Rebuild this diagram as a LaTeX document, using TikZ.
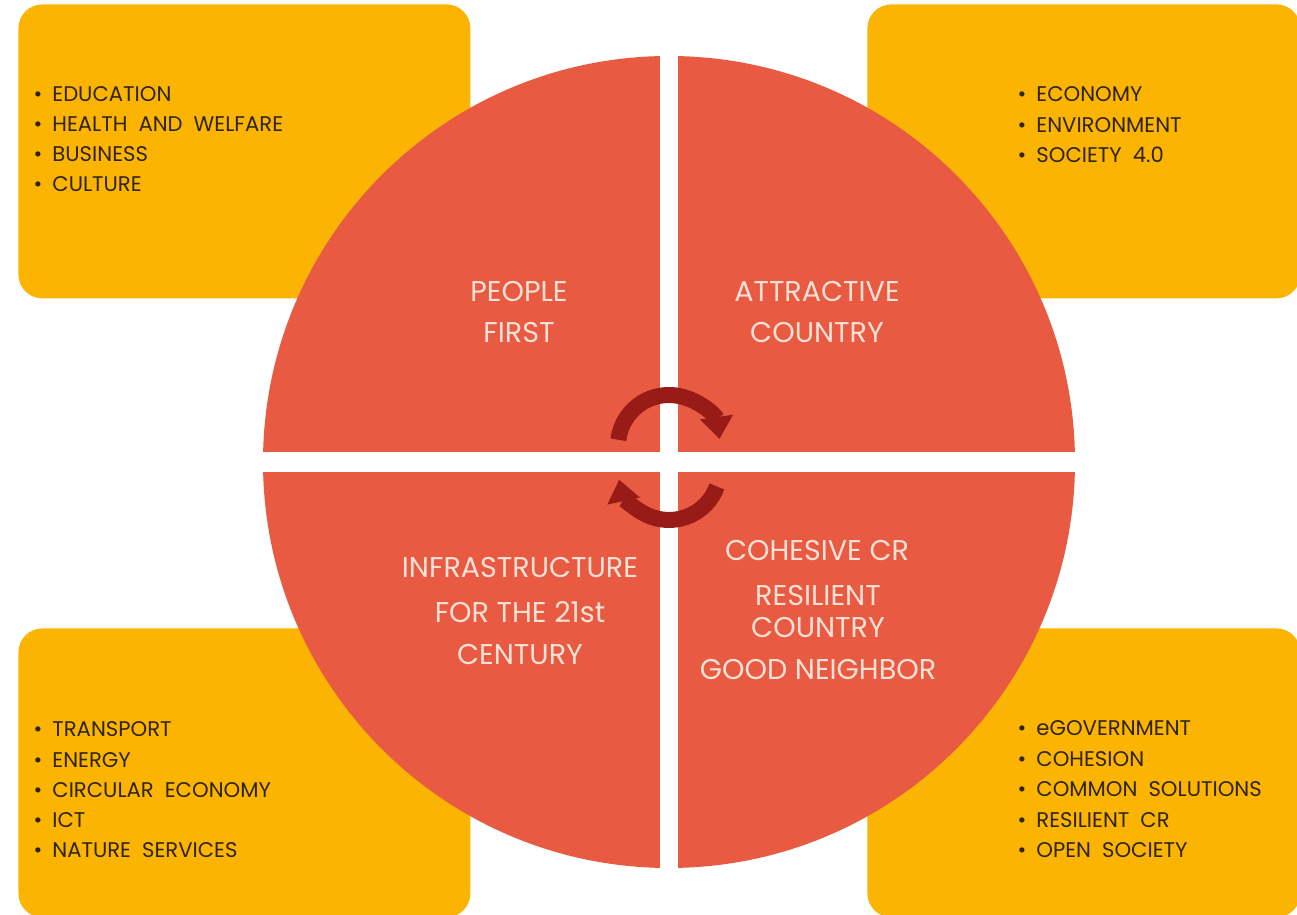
\documentclass[tikz,border=0pt]{standalone}
\usepackage{fontspec}
\setmainfont{Poppins}
\usetikzlibrary{arrows.meta}
\definecolor{amber}{HTML}{FBB401}
\definecolor{tomato}{HTML}{E85A41}
\definecolor{darkred}{HTML}{981B17}
\definecolor{pale}{HTML}{FCE2D6}
\definecolor{ink}{HTML}{2F2405}
\newcommand{\myitem}[1]{\spaceskip=5.5pt plus 1pt\relax\llap{\textbullet\hspace{5pt}}#1}
\begin{document}
\begin{tikzpicture}[x=0.5pt,y=0.5pt,
  box/.style={fill=amber, rounded corners=12pt, inner sep=0pt, draw=none, anchor=north west},
  item/.style={font=\fontsize{10.6}{12}\selectfont, text=ink, inner sep=0pt, anchor=base west},
  quad/.style={font=\fontsize{14.3}{16}\selectfont, text=pale, inner sep=0pt},
  cyc/.style={draw=darkred, line width=8pt, -{Triangle[width=16pt,length=11pt]}}]
\useasboundingbox (0,0) rectangle (1297,915);
\fill[white] (0,0) rectangle (1297,915);
% boxes
\node[box, minimum width=226pt, minimum height=147pt] (tl) at (18,911) {};
\node[box, minimum width=216.5pt, minimum height=147pt] (tr) at (867,911) {};
\node[box, minimum width=226pt, minimum height=144.5pt] (bl) at (18,287) {};
\node[box, minimum width=216.5pt, minimum height=144.5pt] (br) at (867,287) {};
% disk
\node[circle, fill=tomato, minimum size=406pt, inner sep=0pt] (disk) at (669,453) {};
\fill[white] (660,40) rectangle (678,866);
\fill[white] (255,443) rectangle (1083,463);
% lists
\foreach \t [count=\i] in {EDUCATION, HEALTH AND WELFARE, BUSINESS, CULTURE}
  \node[item] (tl\i) at (52,{813-30*(\i-1)}) {\myitem{\t}};
\foreach \t [count=\i] in {ECONOMY, ENVIRONMENT, SOCIETY 4.0}
  \node[item] (tr\i) at (1036,{813-30.5*(\i-1)}) {\myitem{\t}};
\foreach \t [count=\i] in {TRANSPORT, ENERGY, CIRCULAR ECONOMY, ICT, NATURE SERVICES}
  \node[item] (bl\i) at (52,{178-30.25*(\i-1)}) {\myitem{\t}};
\foreach \t [count=\i] in {eGOVERNMENT, COHESION, COMMON SOLUTIONS, RESILIENT CR, OPEN SOCIETY}
  \node[item] (br\i) at (1036,{179-30.5*(\i-1)}) {\myitem{\t}};
% quadrant labels
\node[quad] (q1a) at (519,623) {PEOPLE};
\node[quad] (q1b) at (519,582) {FIRST};
\node[quad] (q2a) at (817,623) {ATTRACTIVE};
\node[quad] (q2b) at (817,582) {COUNTRY};
\node[quad] (q3a) at (520,347) {INFRASTRUCTURE};
\node[quad] (q3b) at (520,303) {FOR THE 21st};
\node[quad] (q3c) at (520,260) {CENTURY};
\node[quad] (q4a) at (817,364) {COHESIVE CR};
\node[quad] (q4b) at (818,319) {RESILIENT};
\node[quad] (q4c) at (818,287) {COUNTRY};
\node[quad] (q4d) at (818,245) {GOOD NEIGHBOR};
% cycle arrows
\coordinate (c1) at (669,469);
\coordinate (c2) at (669,446);
\draw[cyc] ([shift={(173:25.5pt)}]c1) arc[start angle=173, end angle=8, radius=25.5pt];
\draw[cyc] ([shift={(-20:25.5pt)}]c2) arc[start angle=-20, end angle=-168, radius=25.5pt];
\end{tikzpicture}
\end{document}
